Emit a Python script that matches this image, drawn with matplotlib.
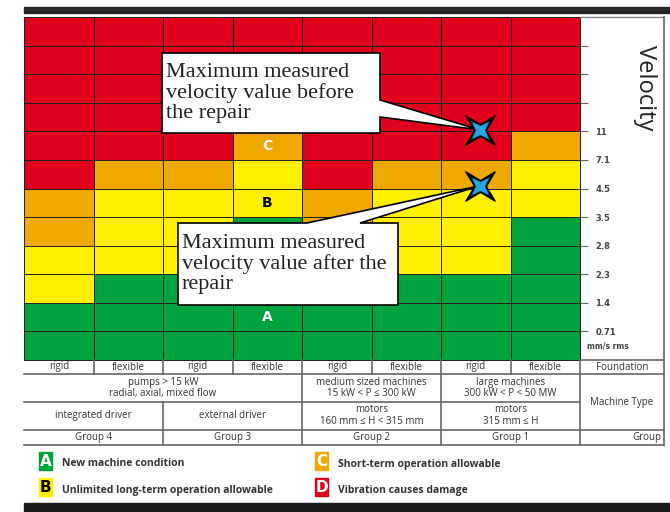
import numpy as np
import matplotlib.pyplot as plt
from matplotlib.colors import ListedColormap
from matplotlib.path import Path
from matplotlib.patches import Polygon, Rectangle

# velocity class limits in mm/s rms (bottom to top of the scale)
velocity_ticks = [0.71, 1.4, 2.3, 2.8, 3.5, 4.5, 7.1, 11]
n_rows = 12

foundation = ["rigid", "flexible", "rigid", "flexible", "rigid", "flexible", "rigid", "flexible"]
# zone limits for every column: A/B, B/C, C/D
limit_ab = [1.4, 2.3, 2.3, 3.5, 1.4, 2.3, 2.3, 3.5]
limit_bc = [2.8, 4.5, 4.5, 7.1, 2.8, 4.5, 4.5, 7.1]
limit_cd = [4.5, 7.1, 7.1, 11, 4.5, 7.1, 7.1, 11]

machine_type = [("pumps > 15 kW\nradial, axial, mixed flow", 0, 4),
                ("medium sized machines\n15 kW < P ≤ 300 kW", 4, 6),
                ("large machines\n300 kW < P < 50 MW", 6, 8)]
driver = [("integrated driver", 0, 2), ("external driver", 2, 4),
          ("motors\n160 mm ≤ H < 315 mm", 4, 6), ("motors\n315 mm ≤ H", 6, 8)]
groups = [("Group 4", 0, 2), ("Group 3", 2, 4), ("Group 2", 4, 6), ("Group 1", 6, 8)]

zone_names = ["A", "B", "C", "D"]
zone_text = ["New machine condition", "Unlimited long-term operation allowable",
             "Short-term operation allowable", "Vibration causes damage"]
zone_colors = ["#00a43f", "#fff000", "#efa800", "#e1001c"]

# measured points (column position, position on the class scale)
measured_x = [6.56, 6.56]
measured_y = [8.05, 6.1]
measured_text = ["Maximum measured\nvelocity value before\nthe repair",
                 "Maximum measured\nvelocity value after the\nrepair"]


def pos(v):
    return velocity_ticks.index(v) + 1


def star4(inner):
    ang = np.deg2rad(np.arange(8) * 45 + 45)
    r = np.where(np.arange(8) % 2 == 0, 1.0, inner)
    v = np.c_[r * np.cos(ang), r * np.sin(ang)]
    return Path(np.vstack([v, v[:1]]), closed=True)


zones = np.zeros((n_rows, len(foundation)))
for c in range(len(foundation)):
    for r in range(n_rows):
        zones[r, c] = sum(pos(l) <= r for l in (limit_ab[c], limit_bc[c], limit_cd[c]))

fig = plt.figure(figsize=(6.7, 5.12), dpi=100)
W, H = 670, 512
ax = fig.add_axes([24 / W, (H - 360) / H, (580 - 24) / W, (360 - 17) / H])
ax.set_zorder(1)
mesh = ax.pcolormesh(np.arange(len(foundation) + 1), np.arange(n_rows + 1), zones,
                     cmap=ListedColormap(zone_colors), vmin=-0.5, vmax=3.5,
                     edgecolors="#222222", linewidth=0.6)
mesh.set_clip_on(False)
ax.set_xlim(0, len(foundation))
ax.set_ylim(0, n_rows)
for s in ax.spines.values():
    s.set_visible(False)
ax.set_xticks([])
ax.yaxis.tick_right()
ax.set_yticks(range(1, n_rows))
ax.set_yticklabels([f"{v:g}" for v in velocity_ticks] + [""] * (n_rows - 1 - len(velocity_ticks)),
                   fontweight="bold")
ax.tick_params(axis="y", length=6, width=0.8, color="#666", pad=5, labelsize=6, labelcolor="#444")
ax.text(1.013, 0.5 / n_rows, "mm/s rms", transform=ax.transAxes, fontsize=5.5,
        color="#444", va="center", fontweight="bold")

# zone letters in the group 3 flexible column
ax.text(3.5, 7.5, "C", color="white", fontsize=10, fontweight="bold", ha="center", va="center")
ax.text(3.5, 5.5, "B", color="black", fontsize=10, fontweight="bold", ha="center", va="center")
ax.text(3.5, 1.5, "A", color="white", fontsize=10, fontweight="bold", ha="center", va="center")

ov = fig.add_axes([0, 0, 1, 1])
ov.set_zorder(2)
ov.axis("off")
ov.set_xlim(0, W)
ov.set_ylim(H, 0)
ov.set_autoscale_on(False)


def to_ov(x, y):
    return ov.transData.inverted().transform(ax.transData.transform((x, y)))


# dark bars
ov.add_patch(Rectangle((24, 7), W - 24, 6, color="#262626"))
ov.add_patch(Rectangle((24, 503), W - 24, 9, color="#1c1c1c"))

# callouts
tip1 = to_ov(measured_x[0], measured_y[0])
tip2 = to_ov(measured_x[1], measured_y[1])
box1 = [(162, 53), (380, 53), (380, 100), tuple(tip1), (380, 117), (380, 133), (162, 133)]
box2 = [(178, 223), (307, 223), tuple(tip2), (360, 223), (398, 223), (398, 305), (178, 305)]
for verts in (box1, box2):
    ov.add_patch(Polygon(verts, closed=True, fc="white", ec="black", lw=1.2, zorder=3))
ov.text(166, 93, measured_text[0], family="Liberation Serif", fontsize=16,
        va="center", linespacing=1.1, color="#222", zorder=4)
ov.text(182, 264, measured_text[1], family="Liberation Serif", fontsize=16,
        va="center", linespacing=1.1, color="#222", zorder=4)

ov.plot(measured_x, measured_y, transform=ax.transData, linestyle="none",
        marker=star4(0.28), ms=21, color="black", clip_on=False, zorder=5)
ov.plot(measured_x, measured_y, transform=ax.transData, linestyle="none",
        marker=star4(0.38), ms=13, mfc="#2aa6de", mec="#0b3d5c", mew=0.5,
        clip_on=False, zorder=6)

ov.text(645, 88, "Velocity", rotation=270, family="Open Sans", fontsize=17,
        ha="center", va="center", color="#222")

# table below the chart
col_x = [to_ov(c, 0)[0] for c in range(len(foundation) + 1)]
right = 664
lc, lw = "#666666", 1.2
ov.plot([col_x[-1], right], [17, 17], color="#888", lw=1)
ov.plot([right, right], [17, 445], color=lc, lw=lw)
ov.plot([col_x[-1], right], [360, 360], color=lc, lw=lw)
ov.plot([col_x[0], right], [374, 374], color=lc, lw=lw)
ov.plot([col_x[0], col_x[-1]], [402, 402], color=lc, lw=lw)
ov.plot([col_x[0], right], [430, 430], color=lc, lw=lw)
ov.plot([col_x[0], right], [445, 445], color=lc, lw=lw)
for c in range(1, len(foundation) + 1):
    ov.plot([col_x[c], col_x[c]], [360, 374], color=lc, lw=lw)
for _, a, b in machine_type:
    ov.plot([col_x[b], col_x[b]], [374, 402], color=lc, lw=lw)
for _, a, b in driver:
    ov.plot([col_x[b], col_x[b]], [402, 445], color=lc, lw=lw)

tkw = dict(family="Open Sans", fontsize=7, color="#333", ha="center", va="center", linespacing=1.0)
for c, f in enumerate(foundation):
    ov.text((col_x[c] + col_x[c + 1]) / 2, 367, f, **tkw)
for t, a, b in machine_type:
    ov.text((col_x[a] + col_x[b]) / 2, 388, t, **tkw)
for t, a, b in driver:
    ov.text((col_x[a] + col_x[b]) / 2, 415.5, t, **tkw)
for t, a, b in groups:
    ov.text((col_x[a] + col_x[b]) / 2, 437.5, t, **tkw)
ov.text((col_x[-1] + right) / 2, 367, "Foundation", **tkw)
ov.text((col_x[-1] + right) / 2, 402, "Machine Type", **tkw)
ov.text(right - 3, 437.5, "Group", **{**tkw, "ha": "right"})

# legend
leg_x = [39, 39, 315, 315]
leg_y = [461, 487, 461, 487]
letter_color = ["white", "black", "white", "white"]
for i in range(4):
    ov.add_patch(Rectangle((leg_x[i], leg_y[i] - 9), 13, 18, color=zone_colors[i]))
    ov.text(leg_x[i] + 6.5, leg_y[i] + 0.5, zone_names[i], color=letter_color[i],
            fontsize=11, fontweight="bold", ha="center", va="center")
    ov.text(leg_x[i] + 23, leg_y[i] + 3, zone_text[i], family="Open Sans",
            fontweight="bold", fontsize=7.5, color="#333", va="center")

fig.savefig("out.png", dpi=100)
